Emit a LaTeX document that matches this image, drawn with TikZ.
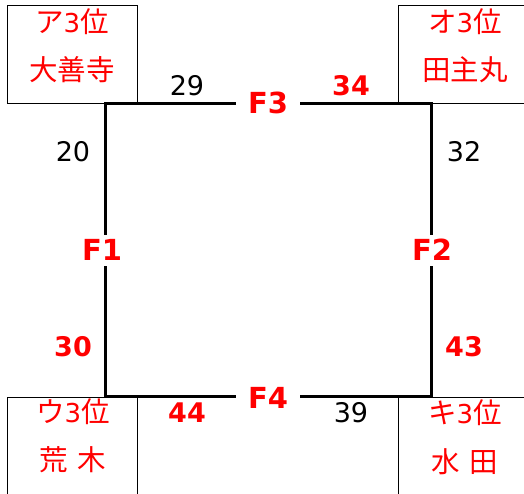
\documentclass[tikz,border=0pt]{standalone}
\usepackage{fontspec}
\setmainfont{DejaVu Sans}
\newfontfamily\jp{Noto Sans CJK JP}
\newcommand\jpk{\jp\fontsize{28.5}{28.5}\selectfont}
\definecolor{lblred}{RGB}{255,0,0}
\tikzset{
  box/.style={draw=black, line width=0.9pt, inner sep=0pt},
  jptxt/.style={font=\fontsize{26}{26}\selectfont, text=lblred, inner sep=0pt, text height=23pt, text depth=2pt},
  numblk/.style={font=\fontsize{27}{27}\selectfont, text=black, inner sep=0pt, text height=19.6pt, text depth=0pt},
  numred/.style={font=\bfseries\fontsize{27}{27}\selectfont, text=lblred, inner sep=0pt, text height=19.6pt, text depth=0pt},
  flbl/.style={font=\bfseries\fontsize{29}{29}\selectfont, text=lblred, fill=white, inner xsep=12pt, inner ysep=5pt, text height=21pt, text depth=0pt},
  sqline/.style={line width=3pt, line cap=rect},
}
\begin{document}
\begin{tikzpicture}[x=1pt,y=-1pt]
\useasboundingbox (0,0) rectangle (524,493);
\clip (0,0) rectangle (524,493);
\fill[white] (0,0) rectangle (524,493);
% corner boxes
\node[box, minimum width=130pt, minimum height=98pt] (btl) at (72,54) {};
\node[box, minimum width=140pt, minimum height=98pt] (btr) at (468,54) {};
\node[box, minimum width=130pt, minimum height=110pt] (bbl) at (72,452) {};
\node[box, minimum width=140pt, minimum height=110pt] (bbr) at (468,452) {};
% square
\coordinate (ctl) at (105,103);
\coordinate (ctr) at (431,103);
\coordinate (cbr) at (431,396);
\coordinate (cbl) at (105,396);
\draw[sqline] (ctl) -- (ctr) -- (cbr) -- (cbl) -- cycle;
% F labels
\node[flbl] (f3) at (268,103) {F3};
\node[flbl] (f4) at (268,398) {F4};
\node[flbl, inner xsep=2pt] (f1) at (102,250) {F1};
\node[flbl, inner xsep=2pt] (f2) at (432,250) {F2};
% box texts
\node[jptxt] (a1) at (72,22) {{\jpk ア}3{\jpk 位}};
\node[jptxt] (a2) at (72,70) {\jpk 大善寺};
\node[jptxt] (o1) at (465,22) {{\jpk オ}3{\jpk 位}};
\node[jptxt] (o2) at (465,70) {\jpk 田主丸};
\node[jptxt] (u1) at (73,412) {{\jpk ウ}3{\jpk 位}};
\node[jptxt] (u2) at (73,460) {\jpk 荒\hspace{10pt}木};
\node[jptxt] (k1) at (465,413) {{\jpk キ}3{\jpk 位}};
\node[jptxt] (k2) at (465,462) {\jpk 水\hspace{10pt}田};
% numbers
\node[numblk] (n29) at (187,86) {29};
\node[numred] (n34) at (351,86) {34};
\node[numred] (n44) at (187,413) {44};
\node[numblk] (n39) at (351,413) {39};
\node[numblk] (n20) at (73,152) {20};
\node[numred] (n30) at (73,347) {30};
\node[numblk] (n32) at (464,152) {32};
\node[numred] (n43) at (464,347) {43};
\end{tikzpicture}
\end{document}
